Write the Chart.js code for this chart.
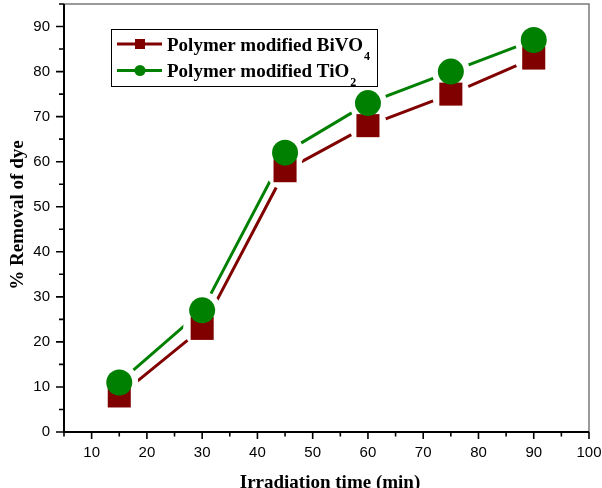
<!DOCTYPE html>
<html><head><meta charset="utf-8">
<script src="https://cdn.jsdelivr.net/npm/chart.js@4.4.0/dist/chart.umd.min.js"></script>
<style>html,body{margin:0;padding:0;background:#fff;}#wrap{width:602px;height:488px;}</style>
</head><body><div id="wrap"><canvas id="c" width="602" height="488"></canvas></div>
<script>
const times = [15, 30, 45, 60, 75, 90];
const bivo4 = [8, 23, 58, 68, 75, 83];
const tio2 = [11, 27, 62, 73, 80, 87];
const xMajorTicks = [10, 20, 30, 40, 50, 60, 70, 80, 90, 100];
const yMajorTicks = [0, 10, 20, 30, 40, 50, 60, 70, 80, 90];
const seriesNames = ['Polymer modified BiVO', 'Polymer modified TiO'];
const seriesSubs = ['4', '2'];
const xTitle = 'Irradiation time (min)';
const yTitle = '% Removal of dye';

const RED = '#800000', GREEN = '#008000';
const pts = arr => times.map((t, i) => ({x: t, y: arr[i]}));

const decor = {
  id: 'decor',
  afterDraw(chart) {
    const ctx = chart.ctx, a = chart.chartArea;
    const xs = chart.scales.x, ys = chart.scales.y;
    ctx.save();
    // top & right frame (gray)
    ctx.strokeStyle = '#7a7a7a'; ctx.lineWidth = 1.5;
    ctx.beginPath(); ctx.moveTo(a.left, a.top); ctx.lineTo(a.right, a.top); ctx.lineTo(a.right, a.bottom); ctx.stroke();
    // left & bottom axes (black)
    ctx.strokeStyle = '#000'; ctx.lineWidth = 2;
    ctx.beginPath(); ctx.moveTo(a.left, a.top); ctx.lineTo(a.left, a.bottom); ctx.lineTo(a.right, a.bottom); ctx.stroke();
    // ticks
    ctx.lineWidth = 1.6;
    ctx.beginPath();
    for (let v = 5; v <= 100; v += 5) {
      const px = xs.getPixelForValue(v);
      const len = (v % 10 === 0) ? 7 : 4.5;
      ctx.moveTo(px, a.bottom); ctx.lineTo(px, a.bottom + len);
    }
    for (let v = 0; v <= 95; v += 5) {
      const py = ys.getPixelForValue(v);
      const len = (v % 10 === 0) ? 8 : 5;
      ctx.moveTo(a.left, py); ctx.lineTo(a.left - len, py);
    }
    ctx.stroke();
    // axis titles
    ctx.fillStyle = '#000';
    ctx.font = 'bold 19px "Liberation Serif", "Times New Roman", serif';
    ctx.textAlign = 'center'; ctx.textBaseline = 'alphabetic';
    ctx.fillText(xTitle, 330, 487.5);
    ctx.save();
    ctx.translate(23, 215); ctx.rotate(-Math.PI / 2);
    ctx.fillText(yTitle, 0, 0);
    ctx.restore();
    // legend
    ctx.strokeStyle = '#000'; ctx.lineWidth = 1;
    ctx.strokeRect(111.5, 29.5, 266, 57);
    const rows = [{y: 44, c: RED, s: 'rect'}, {y: 70.5, c: GREEN, s: 'circle'}];
    rows.forEach((r, i) => {
      ctx.strokeStyle = r.c; ctx.lineWidth = 3;
      ctx.beginPath(); ctx.moveTo(117, r.y); ctx.lineTo(162, r.y); ctx.stroke();
      ctx.fillStyle = r.c;
      if (r.s === 'rect') ctx.fillRect(135, r.y - 5, 10, 10);
      else { ctx.beginPath(); ctx.arc(140, r.y, 5.5, 0, Math.PI * 2); ctx.fill(); }
      ctx.fillStyle = '#000';
      ctx.textAlign = 'left'; ctx.textBaseline = 'alphabetic';
      ctx.font = 'bold 19px "Liberation Serif", "Times New Roman", serif';
      const base = r.y + 6.5;
      ctx.fillText(seriesNames[i], 167, base);
      const w = ctx.measureText(seriesNames[i]).width;
      ctx.font = 'bold 12px "Liberation Serif", "Times New Roman", serif';
      ctx.fillText(seriesSubs[i], 167 + w + 1, base + 9);
    });
    ctx.restore();
  }
};

new Chart(document.getElementById('c'), {
  type: 'line',
  data: {
    datasets: [
      {data: pts(bivo4), borderColor: RED, borderWidth: 3, pointRadius: 0, fill: false, order: 10},
      {data: pts(tio2), borderColor: GREEN, borderWidth: 3, pointRadius: 0, fill: false, order: 9},
      {data: pts(bivo4), showLine: false, pointRadius: 19, pointBackgroundColor: '#fff', pointBorderColor: '#fff', pointBorderWidth: 0, order: 5},
      {data: pts(tio2), showLine: false, pointRadius: 19, pointBackgroundColor: '#fff', pointBorderColor: '#fff', pointBorderWidth: 0, order: 5},
      {label: seriesNames[0] + seriesSubs[0], data: pts(bivo4), showLine: false, pointStyle: 'rect', pointRadius: 16.3, pointBackgroundColor: RED, pointBorderColor: RED, pointBorderWidth: 0, order: 2},
      {label: seriesNames[1] + seriesSubs[1], data: pts(tio2), showLine: false, pointStyle: 'circle', pointRadius: 13, pointBackgroundColor: GREEN, pointBorderColor: GREEN, pointBorderWidth: 0, order: 1}
    ]
  },
  options: {
    responsive: false,
    animation: false,
    devicePixelRatio: 1,
    events: [],
    layout: {autoPadding: false, padding: {left: 0, top: 4, right: 13, bottom: 0}},
    plugins: {legend: {display: false}, tooltip: {enabled: false}},
    scales: {
      x: {
        type: 'linear', min: 5, max: 100,
        grid: {display: false, drawTicks: false},
        border: {display: false},
        afterFit: s => { s.height = 56; s.paddingLeft = 0; s.paddingRight = 0; },
        afterBuildTicks: s => { s.ticks = xMajorTicks.map(v => ({value: v})); },
        ticks: {autoSkip: false, maxRotation: 0, padding: 12, color: '#000',
          font: {family: '"Liberation Sans", Arial, sans-serif', size: 15}}
      },
      y: {
        type: 'linear', min: 0, max: 95,
        grid: {display: false, drawTicks: false},
        border: {display: false},
        afterFit: s => { s.width = 64; s.paddingTop = 0; s.paddingBottom = 0; },
        afterBuildTicks: s => { s.ticks = yMajorTicks.map(v => ({value: v})); },
        ticks: {autoSkip: false, padding: 14, color: '#000',
          font: {family: '"Liberation Sans", Arial, sans-serif', size: 15}}
      }
    }
  },
  plugins: [decor]
});
</script>
</body></html>
